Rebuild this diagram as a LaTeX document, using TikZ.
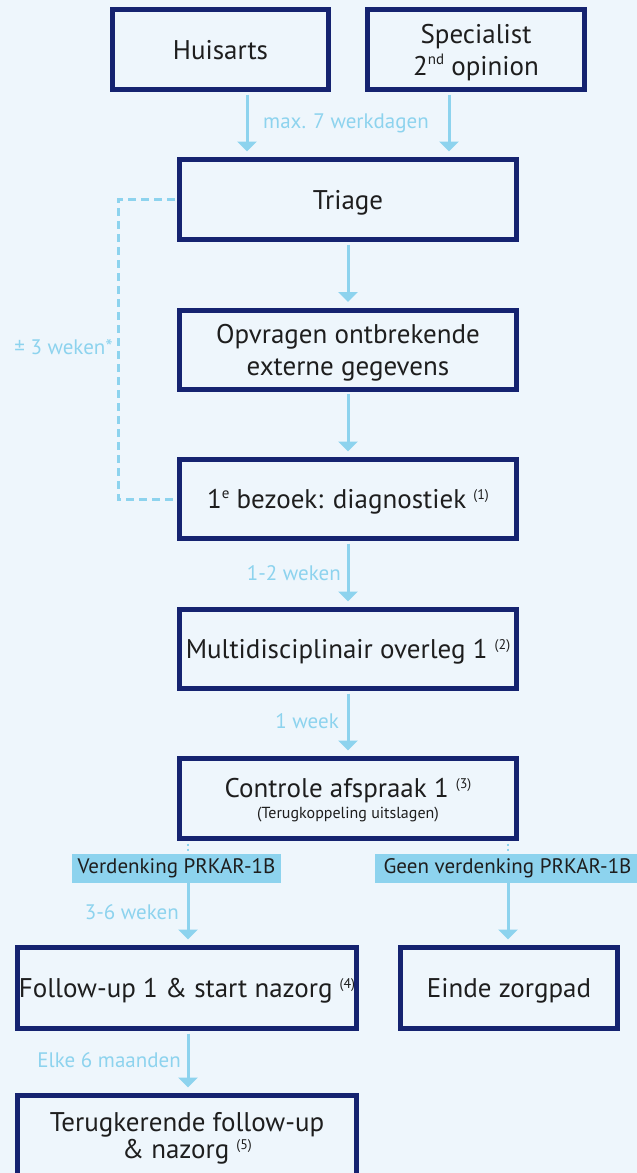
\documentclass[tikz,border=0pt]{standalone}
\usepackage{fontspec}
\setmainfont{PT Sans}
\usetikzlibrary{arrows.meta}
\definecolor{bgc}{HTML}{EEF6FC}
\definecolor{navy}{HTML}{152370}
\definecolor{lb}{HTML}{8DD3EE}
\definecolor{txt}{HTML}{1E1E1E}
\newcommand{\supn}[1]{\raisebox{0.7ex}{\fontsize{14}{14}\selectfont(#1)}}
\newcommand{\supt}[1]{\raisebox{0.75ex}{\fontsize{15}{15}\selectfont #1}}
\begin{document}
\begin{tikzpicture}[x=1pt,y=-1pt,
 box/.style={draw=navy,line width=5pt,fill=bgc,inner sep=0pt,align=center,text=txt,text depth=0pt,font=\fontsize{27}{32}\selectfont},
 arr/.style={draw=lb,line width=3pt,-{Triangle[width=19pt,length=10pt]},shorten >=5.5pt,shorten <=2.5pt},
 lbl/.style={text=lb,font=\fontsize{21}{24}\selectfont,inner sep=0pt},
 tag/.style={fill=lb,text=txt,font=\fontsize{21}{24}\selectfont,inner sep=0pt,minimum height=29pt},
 dashline/.style={draw=lb,line width=3pt,dash pattern=on 8pt off 5pt},
 dotline/.style={draw=lb,line width=2pt,dash pattern=on 2pt off 3pt}
]
\fill[bgc] (0,0) rectangle (637,1173);
\useasboundingbox (0,0) rectangle (637,1173);
\clip (0,0) rectangle (637,1173);
\coordinate (xh) at (247,0);
\coordinate (xs) at (449,0);
\coordinate (xl) at (188,0);
\coordinate (xr) at (508,0);
\coordinate (xd) at (118,0);

\node[box,minimum width=216pt,minimum height=80pt] (hu) at (220.5,49.5) {Huisarts};
\node[box,minimum width=217pt,minimum height=80pt] (sp) at (476,49.5) {Specialist\\2\supt{nd} opinion};
\node[box,minimum width=337pt,minimum height=80pt] (tr) at (348,199.5) {Triage};
\node[box,minimum width=337pt,minimum height=79pt] (op) at (348,349.5) {Opvragen ontbrekende\\externe gegevens};
\node[box,minimum width=337pt,minimum height=79pt] (b1) at (348,499) {1\supt{e} bezoek: diagnostiek \supn{1}};
\node[box,minimum width=337pt,minimum height=79pt] (mu) at (348,649) {Multidisciplinair overleg 1 \supn{2}};
\node[box,minimum width=337pt,minimum height=80pt] (co) at (348,798.5) {Controle afspraak 1 \supn{3}\\[-11pt]{\fontsize{16}{18}\selectfont(Terugkoppeling uitslagen)}};
\node[tag,minimum width=209pt] (vl) at (176.5,868.5) {Verdenking PRKAR-1B};
\node[tag,minimum width=265pt] (gl) at (507.5,868.5) {Geen verdenking PRKAR-1B};
\node[box,minimum width=339pt,minimum height=81pt] (fu) at (187,988) {Follow-up 1 \& start nazorg \supn{4}};
\node[box,minimum width=217pt,minimum height=81pt] (ei) at (509,988) {Einde zorgpad};
\node[box,minimum width=339pt,minimum height=80pt,font=\fontsize{27}{27}\selectfont] (te) at (187,1135.5) {Terugkerende follow-up\\\& nazorg \supn{5}};

\draw[arr] (hu.south -| xh) -- (tr.north -| xh);
\draw[arr] (sp.south -| xs) -- (tr.north -| xs);
\draw[arr] (tr.south) -- (op.north);
\draw[arr] (op.south) -- (b1.north);
\draw[arr] (b1.south) -- (mu.north);
\draw[arr] (mu.south) -- (co.north);
\draw[arr,shorten <=0pt] (vl.south -| xl) -- (fu.north -| xl);
\draw[arr,shorten <=0pt] (gl.south -| xr) -- (ei.north -| xr);
\draw[arr] (fu.south -| xl) -- (te.north -| xl);
\draw[dotline] (co.south -| xl) ++(0,2.5) -- (vl.north -| xl);
\draw[dotline] (co.south -| xr) ++(0,2.5) -- (gl.north -| xr);
\draw[dashline] (tr.west) ++(-2.5,0) -- (tr.west -| xd) -- (b1.west -| xd) -- ([xshift=-2.5pt]b1.west);

\node[lbl] (l0) at (346,123) {max. 7 werkdagen};
\node[lbl,anchor=east] (l1) at (113,347) {± 3 weken*};
\node[lbl,anchor=east] (l2) at (341,573) {1-2 weken};
\node[lbl,anchor=east] (l3) at (339,721) {1 week};
\node[lbl,anchor=east] (l4) at (179,912) {3-6 weken};
\node[lbl,anchor=east] (l5) at (181,1060) {Elke 6 maanden};
\end{tikzpicture}
\end{document}
